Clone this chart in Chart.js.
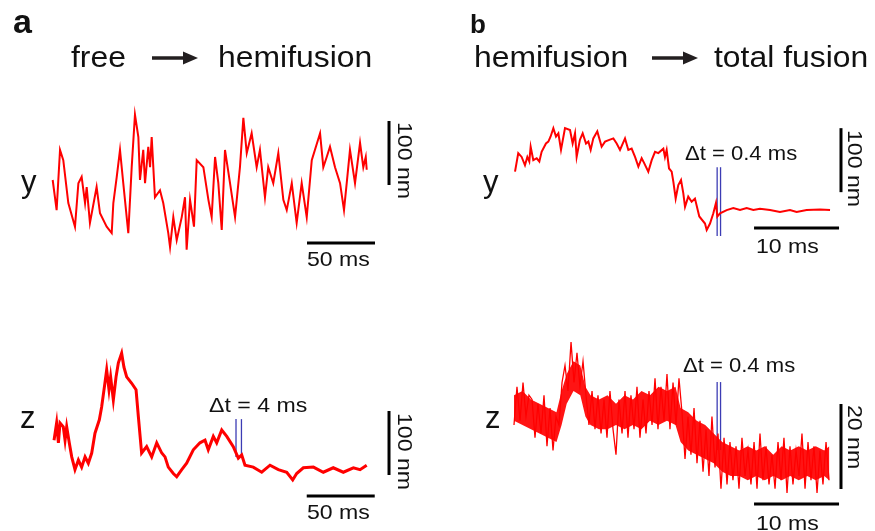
<!DOCTYPE html>
<html>
<head>
<meta charset="utf-8">
<script src="https://cdn.jsdelivr.net/npm/chart.js@4/dist/chart.umd.min.js"></script>
<style>
  html, body { margin: 0; padding: 0; background: #fff; }
  #page { position: relative; width: 875px; height: 531px; overflow: hidden; background: #fff; }
  #page canvas { position: absolute; }
  .t { position: absolute; white-space: nowrap; line-height: 1; color: #111;
       font-family: "Liberation Sans", Arial, Helvetica, sans-serif; transform-origin: 0 0; }
  .bold { font-weight: bold; }
</style>
</head>
<body>
<div id="page">
  <canvas id="c-ay" width="360" height="160" style="left:40px;top:100px"></canvas>
  <canvas id="c-az" width="360" height="180" style="left:40px;top:330px"></canvas>
  <canvas id="c-by" width="360" height="160" style="left:500px;top:100px"></canvas>
  <canvas id="c-bz" width="360" height="180" style="left:500px;top:330px"></canvas>

  <svg width="875" height="531" style="position:absolute;left:0;top:0">
    <line x1="152" y1="58" x2="187" y2="58" stroke="#231f20" stroke-width="3.5"/>
    <polygon points="183,51.5 198,58 183,64.5" fill="#231f20"/>
    <line x1="652" y1="58" x2="687" y2="58" stroke="#231f20" stroke-width="3.5"/>
    <polygon points="683,51.5 698,58 683,64.5" fill="#231f20"/>
  </svg>

  <div class="t bold" style="left:13px;top:4px;font-size:34px">a</div>
  <div class="t bold" style="left:470px;top:11px;font-size:26px">b</div>

  <div class="t" style="left:71px;top:42.5px;font-size:29px;transform:scaleX(1.1)">free</div>
  <div class="t" style="left:218px;top:42.5px;font-size:29px;transform:scaleX(1.1)">hemifusion</div>
  <div class="t" style="left:474px;top:42.5px;font-size:29px;transform:scaleX(1.1)">hemifusion</div>
  <div class="t" style="left:714px;top:42.5px;font-size:29px;transform:scaleX(1.1)">total fusion</div>

  <div class="t" style="left:21px;top:166px;font-size:31px">y</div>
  <div class="t" style="left:20px;top:402px;font-size:31px">z</div>
  <div class="t" style="left:483px;top:166px;font-size:31px">y</div>
  <div class="t" style="left:485px;top:402px;font-size:31px">z</div>

  <div class="t" style="left:307px;top:248px;font-size:21px;transform:scaleX(1.1)">50 ms</div>
  <div class="t" style="left:307px;top:501px;font-size:21px;transform:scaleX(1.1)">50 ms</div>
  <div class="t" style="left:756px;top:235px;font-size:21px;transform:scaleX(1.1)">10 ms</div>
  <div class="t" style="left:756px;top:512px;font-size:21px;transform:scaleX(1.1)">10 ms</div>

  <div class="t" style="left:209px;top:394px;font-size:21px;transform:scaleX(1.1)">Δt = 4 ms</div>
  <div class="t" style="left:685px;top:142px;font-size:21px;transform:scaleX(1.05)">Δt = 0.4 ms</div>
  <div class="t" style="left:683px;top:354px;font-size:21px;transform:scaleX(1.05)">Δt = 0.4 ms</div>

  <div class="t" style="left:416px;top:122px;font-size:21px;transform:rotate(90deg) scaleX(1.1)">100 nm</div>
  <div class="t" style="left:416px;top:413px;font-size:21px;transform:rotate(90deg) scaleX(1.1)">100 nm</div>
  <div class="t" style="left:866px;top:130px;font-size:21px;transform:rotate(90deg) scaleX(1.1)">100 nm</div>
  <div class="t" style="left:866px;top:405px;font-size:21px;transform:rotate(90deg) scaleX(1.1)">20 nm</div>
</div>

<script>
// ── Panel a, y trace (ms, nm) ──
const aYTime = [0.5,3.4,5.9,8.3,12,16.9,19.4,21.8,24.3,25.5,27.9,32.8,35.3,40.2,43.9,45.1,47.6,50,52.4,56.1,
  58.6,61,63.5,64.7,67.1,68.4,70.8,72.1,73.3,75.7,79.4,81.8,85.5,86.8,89.2,91.7,95.4,97.8,99,101.5,
  104.4,106.4,111.3,115,117.4,119.9,122.3,124.8,127.2,130.9,134.6,138.2,140.7,143.2,146.8,150.5,152.9,156.6,159,162.7,
  166.4,170.1,172.6,176.3,179.9,183.6,187.3,191,197.1,199.5,202,204.4,208.1,211.8,214.7,216.7,219.1,222.8,226.5,228.9,
  230.7,231.4];
const aYValue = [125,78,172,156,89,52,120,130,89,114,58,114,73,52,42,89,130,172,120,42,
  145,227,192,125,172,120,177,145,192,98,109,89,42,20,67,31,67,98,16,94,
  52,156,145,94,67,161,120,47,172,120,67,145,222,167,198,145,172,98,145,120,
  167,94,78,120,58,120,67,156,198,145,161,177,145,120,78,120,172,120,183,145,
  161,141];

// ── Panel a, z trace ──
const aZTime = [1.5,3.4,4.7,5.9,8.3,9.6,10.8,12.7,14.5,16.9,19.4,21.8,24.3,26.7,29.2,31.6,34.8,36.5,38.5,40.2,
  41.9,43.1,45.1,47.1,48.8,51.2,52.9,54.9,58.6,61.8,63.5,65.9,69.6,73.3,77,80.7,83.1,85.5,89.2,91.7,
  95.4,99,103.9,108.8,112.5,114.9,118.6,121.1,124.8,128.5,133.3,137,139.5,141.9,148,154.2,160.3,166.4,172.6,177,
  179.9,184.8,192.2,199.5,206.8,214.2,221.6,226.5,231.4];
const aZValue = [109,136,105,136,130,109,130,105,83,63,78,67,83,73,89,120,141,161,192,219,
  188,208,172,208,230,245,223,208,198,188,146,89,99,83,105,89,83,67,57,52,
  63,73,94,105,109,94,115,105,125,115,99,81,86,70,67,59,70,63,59,47,
  57,66,67,59,66,59,66,63,70];

// ── Panel b, y trace ──
const bYTime = [0.12,0.5,0.9,1.29,1.57,1.8,1.96,2.27,2.67,2.98,3.25,3.76,4.04,4.31,4.63,4.94,5.22,5.53,6,6.59,
  6.9,7.18,7.37,7.76,8.08,8.47,8.75,9.02,9.33,9.8,10.31,10.71,11.29,11.69,12.08,12.47,13.06,13.45,13.84,14.24,
  14.63,15.02,15.33,15.8,16.2,16.59,16.98,17.57,17.76,17.96,18.24,18.55,18.75,19.02,19.33,19.65,19.92,20.12,20.5,20.9,
  21.29,21.8,22.47,22.67,23.06,23.45,23.76,23.92,24.24,25.02,25.8,26.59,27.37,28.16,28.94,30.12,31.29,32.47,33.25,34.43,
  36,37.18];
const bYValue = [138,167,161,148,161,154,177,156,159,154,169,182,185,193,206,193,198,172,206,203,
  182,198,161,188,198,182,185,172,190,201,177,185,188,190,182,172,190,172,174,161,
  146,159,151,138,156,169,167,174,161,172,143,138,122,96,117,125,104,83,99,91,
  96,68,57,47,57,73,89,68,73,78,81,78,81,78,80,78,75,78,75,78,
  79,78];

// ── Panel b, z trace (noise spikes) ──
const bZTime = [0,0.35,0.71,1.06,1.41,1.76,2.12,2.47,2.82,3.18,3.53,3.88,4.24,4.59,4.94,5.29,5.65,6,6.35,6.71,
  7.06,7.41,7.76,8.12,8.47,8.82,9.18,9.53,9.88,10.24,10.59,10.94,11.29,11.65,12,12.35,12.71,13.06,13.41,13.76,
  14.12,14.47,14.82,15.18,15.53,15.88,16.24,16.59,16.94,17.29,17.65,18,18.35,18.71,19.06,19.41,19.76,20.12,20.47,20.82,
  21.18,21.53,21.88,22.24,22.59,22.94,23.29,23.65,24,24.35,24.71,25.06,25.41,25.76,26.12,26.47,26.82,27.18,27.53,27.88,
  28.24,28.59,28.94,29.29,29.65,30,30.35,30.71,31.06,31.41,31.76,32.12,32.47,32.82,33.18,33.53,33.88,34.24,34.59,34.94,
  35.29,35.65,36,36.35,36.71,37.06];
const bZValue = [20,29,21,30,22,27,26,17,25,18,27,15,24,14,22,20,30,34,28,39.5,
  30,37,29,35,27,20,28,19,27,18,26,17,28,19,13,26,18,28,17,27,
  19,29,17,26,18,28,20,31,19,29,21,32,19,30,20,31,23,12,22,13,
  24,11,21,9,19,8,22,10,18,5,17,6,16,7,15,5,17,8,14,6,
  16,5,18,7,15,6,13,5,16,7,17,4,15,6,14,8,18,5,16,7,
  15,4,14,6,16,7];

// ── Panel b, z trace dense core band ──
const bZCoreTime = [0,1,2,3,4,5,5.6,6.2,7,7.8,8.4,9,10,11,12,13,14,15,16,17,
  18,19,19.6,20.5,21.5,22.5,23.5,24.5,25.5,26.5,27.5,28.5,29.5,30.5,31.5,32.5,33.5,34.5,35.5,36.5,37.1];
const bZCoreHigh = [27,28,26,25,24,23,28,32,35,34,29,27,26,27,25,27,26,28,27,29,
  28,29,24,23,21,20,18,16,15,14,15,14,15,13,15,14,15,14,15,14,15];
const bZCoreLow = [21,20,19,18,17,16,20,25,28,27,22,20,19,19,20,19,20,19,21,20,
  21,20,16,14,13,12,11,9,8,8,7,8,7,8,7,8,7,8,7,8,7];

// ── Scale bars and Δt markers (data units) ──
const aTimeBar = 50, aNmBar = 100;
const bTimeBar = 10, bYNmBar = 100, bZNmBar = 20;
const aYBar = { t0: 187.5, level: 26.6, vt: 247.8, v0: 117.2 };
const aZBar = { t0: 187.3, level: 21.9, vt: 247.8, v0: 54.7 };
const bYBar = { t0: 28.24, level: 50, vt: 38.47, v0: 106 };
const bZBar = { t0: 28.24, level: 1.41, vt: 38.47, v0: 4.94 };
const aZDelta = [135.3, 139.3], aZDeltaSpan = [83, 142];
const bYDelta = [23.9, 24.3], bYDeltaSpan = [37.5, 145];
const bZDelta = [23.9, 24.3], bZDeltaSpan = [14.1, 30.1];

const RED = '#ff0000';
const BLUE = '#3c3cb4';

function pts(xs, ys) {
  return xs.map((x, i) => ({ x, y: ys[i] }));
}

function seg(data, color, width) {
  return { data, borderColor: color, borderWidth: width, pointRadius: 0, showLine: true, tension: 0, clip: false };
}

function scaleBars(bar, tLen, vLen) {
  return [
    seg([{ x: bar.t0, y: bar.level }, { x: bar.t0 + tLen, y: bar.level }], '#000', 3),
    seg([{ x: bar.vt, y: bar.v0 }, { x: bar.vt, y: bar.v0 + vLen }], '#000', 3),
  ];
}

function deltaLines(times, span) {
  return times.map((t) => seg([{ x: t, y: span[0] }, { x: t, y: span[1] }], BLUE, 1.3));
}

function makePanel(id, view, datasets) {
  const ctx = document.getElementById(id).getContext('2d');
  return new Chart(ctx, {
    type: 'scatter',
    data: { datasets },
    options: {
      responsive: false,
      animation: false,
      events: [],
      layout: { padding: 0 },
      plugins: { legend: { display: false }, tooltip: { enabled: false } },
      scales: {
        x: { type: 'linear', display: false, min: view.x[0], max: view.x[1] },
        y: { type: 'linear', display: false, min: view.y[0], max: view.y[1] },
      },
    },
  });
}

// pixel geometry: a = 1.36 px/ms, b = 8.5 px/ms; y: 0.64 px/nm, bz: 4.25 px/nm
const viewA = { x: [-8.824, 255.88] };
const viewB = { x: [-1.647, 40.706] };

makePanel('c-ay', { x: viewA.x, y: [0, 250] }, [
  seg(pts(aYTime, aYValue), RED, 2),
  ...scaleBars(aYBar, aTimeBar, aNmBar),
]);

makePanel('c-az', { x: viewA.x, y: [0, 281.25] }, [
  seg(pts(aZTime, aZValue), RED, 3),
  ...deltaLines(aZDelta, aZDeltaSpan),
  ...scaleBars(aZBar, aTimeBar, aNmBar),
]);

makePanel('c-by', { x: viewB.x, y: [0, 250] }, [
  seg(pts(bYTime, bYValue), RED, 2),
  ...deltaLines(bYDelta, bYDeltaSpan),
  ...scaleBars(bYBar, bTimeBar, bYNmBar),
]);

makePanel('c-bz', { x: viewB.x, y: [0, 42.35] }, [
  { ...seg(pts(bZCoreTime, bZCoreHigh), RED, 0), fill: '+1', backgroundColor: 'rgba(255,0,0,0.92)' },
  seg(pts(bZCoreTime, bZCoreLow), RED, 0),
  seg(pts(bZTime, bZValue), RED, 1.3),
  ...deltaLines(bZDelta, bZDeltaSpan),
  ...scaleBars(bZBar, bTimeBar, bZNmBar),
]);
</script>
</body>
</html>
